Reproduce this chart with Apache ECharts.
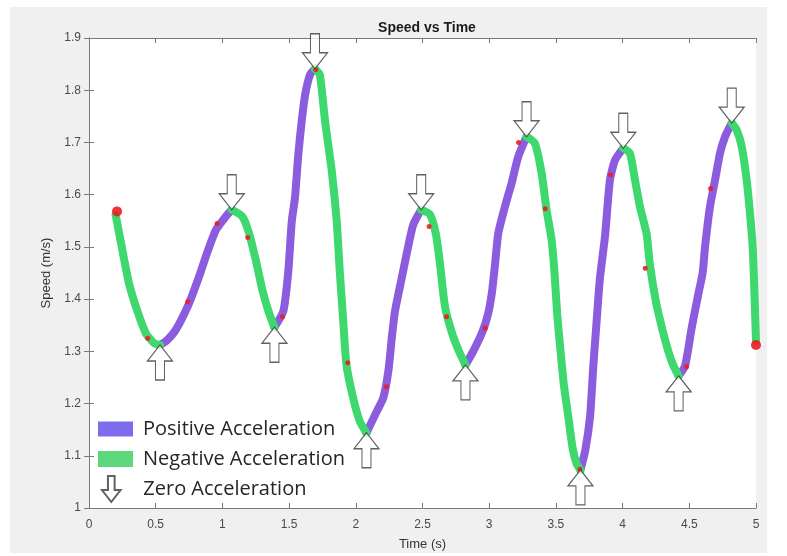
<!DOCTYPE html>
<html>
<head>
<meta charset="utf-8">
<script src="https://cdn.jsdelivr.net/npm/echarts@6/dist/echarts.min.js"></script>
<style>
  html, body { margin: 0; padding: 0; background: #ffffff; }
  #chart { width: 787px; height: 556px; }
</style>
</head>
<body>
<div id="chart"></div>
<script>
// Measured walking speed over time (s, m/s)
const times = [
  0.20, 0.25, 0.30, 0.36, 0.425, 0.487, 0.532,
  0.58, 0.65, 0.75, 0.825, 0.875, 0.95, 1.025, 1.07,
  1.15, 1.20, 1.25, 1.30, 1.35, 1.39,
  1.457, 1.494, 1.52, 1.544, 1.569, 1.594, 1.62, 1.657, 1.694,
  1.73, 1.77, 1.82, 1.857, 1.88, 1.906, 1.93, 1.98, 2.03, 2.08,
  2.157, 2.206, 2.244, 2.27, 2.294, 2.344, 2.38, 2.43, 2.49,
  2.556, 2.60, 2.63, 2.669, 2.72, 2.77, 2.822,
  2.88, 2.95, 2.99, 3.02, 3.045, 3.068, 3.118, 3.168, 3.218, 3.28,
  3.343, 3.393, 3.43, 3.468, 3.49, 3.51, 3.535, 3.56, 3.593, 3.625, 3.655, 3.684,
  3.72, 3.756, 3.78, 3.806, 3.83, 3.868, 3.905, 3.943, 4.005,
  4.055, 4.093, 4.13, 4.18, 4.205, 4.25, 4.30, 4.345, 4.38, 4.42,
  4.468, 4.518, 4.568, 4.60, 4.618, 4.655, 4.693, 4.73, 4.768, 4.818,
  4.855, 4.893, 4.93, 4.955, 4.975, 4.985, 4.993, 5.00
];
const speeds = [
  1.561, 1.494, 1.430, 1.379, 1.335, 1.316, 1.312,
  1.320, 1.341, 1.392, 1.443, 1.481, 1.532, 1.558, 1.571,
  1.558, 1.526, 1.475, 1.417, 1.373, 1.346,
  1.377, 1.453, 1.549, 1.594, 1.677, 1.740, 1.791, 1.830, 1.841,
  1.830, 1.740, 1.645, 1.549, 1.453, 1.357, 1.274, 1.211, 1.166, 1.144,
  1.185, 1.211, 1.262, 1.326, 1.377, 1.440, 1.485, 1.542, 1.571,
  1.562, 1.525, 1.470, 1.385, 1.336, 1.302, 1.274,
  1.300, 1.338, 1.370, 1.412, 1.470, 1.526, 1.577, 1.622, 1.673, 1.711,
  1.698, 1.641, 1.571, 1.513, 1.449, 1.370, 1.300, 1.235, 1.175, 1.115, 1.085, 1.073,
  1.110, 1.175, 1.270, 1.360, 1.440, 1.520, 1.628, 1.666, 1.689,
  1.679, 1.628, 1.577, 1.525, 1.465, 1.395, 1.340, 1.298, 1.273, 1.253,
  1.272, 1.345, 1.410, 1.450, 1.500, 1.577, 1.628, 1.679, 1.711, 1.737,
  1.724, 1.692, 1.628, 1.564, 1.500, 1.437, 1.373, 1.320
];

// Raw speed samples
const sampleTimes = [0.21, 0.44, 0.74, 0.96, 1.19, 1.45, 1.70, 1.94, 2.23, 2.55,
                     2.68, 2.97, 3.22, 3.42, 3.68, 3.91, 4.17, 4.48, 4.66, 5.00];
const sampleSpeeds = [1.568, 1.325, 1.395, 1.545, 1.518, 1.366, 1.839, 1.278, 1.232, 1.539,
                      1.366, 1.344, 1.700, 1.573, 1.074, 1.638, 1.459, 1.271, 1.612, 1.312];

const legendNames = ['Positive Acceleration', 'Negative Acceleration', 'Zero Acceleration'];

const PURPLE = '#8b5cde';
const GREEN = '#3fd86e';
const ARROW_DOWN = 'path://M8,0L17,0L17,19L25,19L12.5,35L0,19L8,19Z';
const ARROW_UP = 'path://M12.5,0L25,16L17,16L17,35L8,35L8,16L0,16Z';

// Split the curve into rising and falling stretches
const n = times.length;
const risingSeg = i => speeds[i + 1] > speeds[i];
const posData = times.map((t, i) => {
  const on = (i > 0 && risingSeg(i - 1)) || (i < n - 1 && risingSeg(i));
  return on ? [t, speeds[i]] : [t, '-'];
});
const negData = times.map((t, i) => {
  const on = (i > 0 && !risingSeg(i - 1)) || (i < n - 1 && !risingSeg(i));
  return on ? [t, speeds[i]] : [t, '-'];
});

// Turning points: where the slope changes sign
const turnData = [];
for (let i = 1; i < n - 1; i++) {
  const a = speeds[i] - speeds[i - 1];
  const b = speeds[i + 1] - speeds[i];
  if (a * b < 0) {
    const peak = a > 0;
    turnData.push({
      value: [times[i], speeds[i]],
      symbol: peak ? ARROW_DOWN : ARROW_UP,
      symbolOffset: peak ? [0, '-50%'] : [0, '50%']
    });
  }
}

const samples = sampleTimes.map((t, i) => [t, sampleSpeeds[i]]);

const chart = echarts.init(document.getElementById('chart'), null, { renderer: 'canvas' });

const axisLineStyle = { color: '#7a7a7a', width: 1 };
const tickLabel = { fontFamily: 'Liberation Sans', fontSize: 12, color: '#4a4a4a' };

const legendText = {
  fontFamily: 'Open Sans',
  fontSize: 20,
  color: '#262626',
  padding: [0, 0, 0, 5]
};

chart.setOption({
  backgroundColor: '#ffffff',
  animation: false,
  graphic: [{
    type: 'rect',
    z: -10,
    silent: true,
    shape: { x: 10, y: 7, width: 757, height: 546 },
    style: { fill: '#f0f0f0' }
  }],
  title: {
    text: 'Speed vs Time',
    left: 422,
    top: 16,
    textAlign: 'center',
    textStyle: { fontFamily: 'Liberation Sans', fontSize: 14, fontWeight: 'bold', color: '#1a1a1a' }
  },
  grid: {
    left: 89, right: 31, top: 38, bottom: 48,
    show: true, backgroundColor: '#ffffff', borderWidth: 0
  },
  legend: [
    {
      data: [{ name: legendNames[0], icon: 'rect', itemStyle: { color: '#7e6cef' } }],
      left: 98, top: 419, padding: 0, itemWidth: 35, itemHeight: 15,
      selectedMode: false, textStyle: legendText
    },
    {
      data: [{ name: legendNames[1], icon: 'rect', itemStyle: { color: '#5ed67b' } }],
      left: 98, top: 449, padding: 0, itemWidth: 35, itemHeight: 16,
      selectedMode: false, textStyle: legendText
    },
    {
      data: [{ name: legendNames[2], icon: ARROW_DOWN }],
      left: 101, top: 475, padding: 0, itemWidth: 20, itemHeight: 26,
      selectedMode: false,
      textStyle: Object.assign({}, legendText, { padding: [0, 0, 0, 17] })
    }
  ],
  xAxis: [
    {
      type: 'value', min: 0, max: 5, interval: 0.5,
      name: 'Time (s)', nameLocation: 'middle', nameGap: 30,
      nameTextStyle: { fontFamily: 'Liberation Sans', fontSize: 13, color: '#333333' },
      axisLine: { show: true, lineStyle: axisLineStyle },
      axisTick: { show: true, inside: true, length: 5, lineStyle: axisLineStyle },
      axisLabel: Object.assign({ margin: 11 }, tickLabel),
      splitLine: { show: false }
    },
    {
      type: 'value', min: 0, max: 5, interval: 0.5, position: 'top',
      axisLine: { show: true, lineStyle: axisLineStyle },
      axisTick: { show: true, inside: true, length: 5, lineStyle: axisLineStyle },
      axisLabel: { show: false },
      splitLine: { show: false }
    }
  ],
  yAxis: [
    {
      type: 'value', min: 1, max: 1.9, interval: 0.1,
      name: 'Speed (m/s)', nameLocation: 'middle', nameGap: 30,
      nameTextStyle: { fontFamily: 'Liberation Sans', fontSize: 13, color: '#333333' },
      axisLine: { show: true, lineStyle: axisLineStyle },
      axisTick: { show: true, inside: true, length: 5, lineStyle: axisLineStyle },
      axisLabel: Object.assign({ margin: 8 }, tickLabel),
      splitLine: { show: false }
    },
    {
      type: 'value', min: 1, max: 1.9, interval: 0.1, position: 'right',
      axisLine: { show: true, lineStyle: axisLineStyle },
      axisTick: { show: true, inside: true, length: 5, lineStyle: axisLineStyle },
      axisLabel: { show: false },
      splitLine: { show: false }
    }
  ],
  series: [
    {
      name: legendNames[0],
      type: 'line',
      data: posData,
      showSymbol: false,
      symbol: 'none',
      smooth: 0.2,
      connectNulls: false,
      color: PURPLE,
      lineStyle: { color: PURPLE, width: 8, cap: 'round', join: 'round' },
      z: 3
    },
    {
      name: legendNames[1],
      type: 'line',
      data: negData,
      showSymbol: false,
      symbol: 'none',
      smooth: 0.2,
      connectNulls: false,
      color: GREEN,
      lineStyle: { color: GREEN, width: 8, cap: 'round', join: 'round' },
      z: 3
    },
    {
      name: 'samples',
      type: 'scatter',
      data: samples,
      symbol: 'circle',
      symbolSize: (val, p) => (p.dataIndex === 0 || p.dataIndex === samples.length - 1) ? 10 : 5,
      itemStyle: { color: '#ec1c24', opacity: 0.9 },
      z: 4
    },
    {
      name: legendNames[2],
      type: 'scatter',
      data: turnData,
      symbolSize: [25, 35],
      clip: false,
      itemStyle: { color: '#ffffff', borderColor: '#3a3a3a', borderWidth: 1.2 },
      z: 5
    }
  ]
});
</script>
</body>
</html>
